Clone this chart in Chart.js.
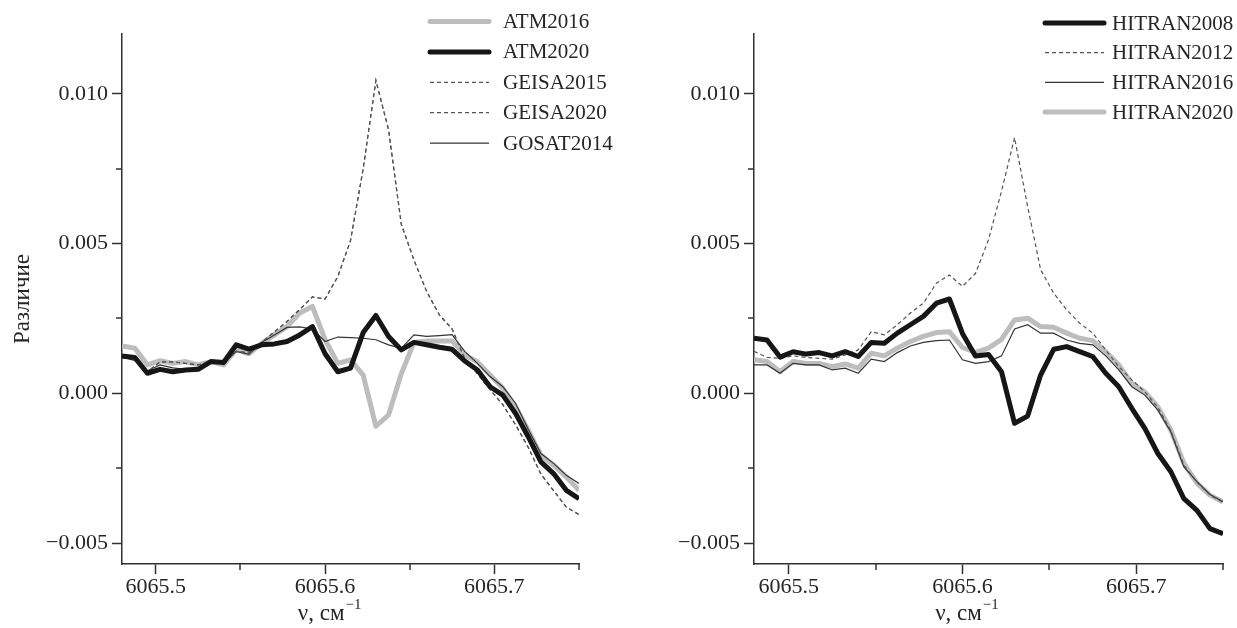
<!DOCTYPE html>
<html>
<head>
<meta charset="utf-8">
<script src="https://cdn.jsdelivr.net/npm/chart.js@4.4.1/dist/chart.umd.min.js"></script>
<style>
  html, body { margin: 0; padding: 0; background: #ffffff; }
  #wrap { position: relative; width: 1237px; height: 628px; overflow: hidden; }
  canvas { position: absolute; top: 0; }
</style>
</head>
<body>
<div id="wrap">
  <canvas id="leftPanel" width="620" height="628" style="left:0"></canvas>
  <canvas id="rightPanel" width="617" height="628" style="left:620px"></canvas>
</div>
<script>
// Wavenumber grid, cm^-1
const wavenumber = [
  6065.4800, 6065.4875, 6065.4950, 6065.5025, 6065.5100, 6065.5175, 6065.5250, 6065.5325,
  6065.5400, 6065.5475, 6065.5550, 6065.5625, 6065.5700, 6065.5775, 6065.5850, 6065.5925,
  6065.6000, 6065.6075, 6065.6150, 6065.6225, 6065.6300, 6065.6375, 6065.6450, 6065.6525,
  6065.6600, 6065.6675, 6065.6750, 6065.6825, 6065.6900, 6065.6975, 6065.7050, 6065.7125,
  6065.7200, 6065.7275, 6065.7350, 6065.7425, 6065.7500
];

// Left panel: ATM / GEISA / GOSAT differences
const atm2016 = [
  0.00158, 0.00151, 0.00095, 0.00109, 0.00100, 0.00106, 0.00095, 0.00106,
  0.00095, 0.00147, 0.00132, 0.00167, 0.00195, 0.00223, 0.00268, 0.00290,
  0.00179, 0.00100, 0.00112, 0.00061, -0.00110, -0.00072, 0.00065, 0.00170,
  0.00175, 0.00175, 0.00175, 0.00128, 0.00105, 0.00061, 0.00017, -0.00045,
  -0.00123, -0.00207, -0.00240, -0.00279, -0.00324
];
const atm2020 = [
  0.00125, 0.00120, 0.00067, 0.00080, 0.00072, 0.00078, 0.00080, 0.00106,
  0.00103, 0.00162, 0.00148, 0.00162, 0.00165, 0.00173, 0.00195, 0.00223,
  0.00132, 0.00072, 0.00084, 0.00203, 0.00260, 0.00190, 0.00145, 0.00170,
  0.00162, 0.00154, 0.00147, 0.00108, 0.00078, 0.00022, -0.00006, -0.00067,
  -0.00145, -0.00229, -0.00268, -0.00324, -0.00352
];
const geisa2015 = [
  0.00120, 0.00115, 0.00072, 0.00105, 0.00105, 0.00100, 0.00095, 0.00105,
  0.00100, 0.00140, 0.00135, 0.00170, 0.00205, 0.00240, 0.00280, 0.00322,
  0.00315, 0.00390, 0.00510, 0.00750, 0.01045, 0.00880, 0.00565, 0.00445,
  0.00340, 0.00262, 0.00215, 0.00115, 0.00065, 0.00012, -0.00038, -0.00105,
  -0.00180, -0.00270, -0.00325, -0.00380, -0.00405
];
const geisa2020 = [
  0.00120, 0.00115, 0.00072, 0.00105, 0.00105, 0.00100, 0.00095, 0.00105,
  0.00100, 0.00140, 0.00135, 0.00170, 0.00205, 0.00240, 0.00280, 0.00322,
  0.00315, 0.00390, 0.00510, 0.00750, 0.01045, 0.00880, 0.00565, 0.00445,
  0.00340, 0.00262, 0.00215, 0.00115, 0.00065, 0.00012, -0.00038, -0.00105,
  -0.00180, -0.00270, -0.00325, -0.00380, -0.00405
];
const gosat2014 = [
  0.00120, 0.00110, 0.00075, 0.00095, 0.00085, 0.00080, 0.00080, 0.00105,
  0.00100, 0.00140, 0.00130, 0.00170, 0.00195, 0.00220, 0.00222, 0.00215,
  0.00173, 0.00188, 0.00186, 0.00184, 0.00179, 0.00162, 0.00150, 0.00195,
  0.00190, 0.00193, 0.00196, 0.00140, 0.00100, 0.00056, 0.00022, -0.00033,
  -0.00120, -0.00201, -0.00234, -0.00274, -0.00301
];

// Right panel: HITRAN editions
const hitran2008 = [
  0.00184, 0.00178, 0.00121, 0.00139, 0.00131, 0.00136, 0.00125, 0.00139,
  0.00123, 0.00170, 0.00167, 0.00201, 0.00229, 0.00257, 0.00301, 0.00315,
  0.00200, 0.00125, 0.00130, 0.00072, -0.00100, -0.00076, 0.00061, 0.00147,
  0.00156, 0.00139, 0.00123, 0.00067, 0.00022, -0.00050, -0.00117, -0.00201,
  -0.00262, -0.00352, -0.00391, -0.00452, -0.00469
];
const hitran2012 = [
  0.00140, 0.00120, 0.00117, 0.00125, 0.00120, 0.00117, 0.00114, 0.00128,
  0.00145, 0.00206, 0.00195, 0.00229, 0.00268, 0.00301, 0.00368, 0.00395,
  0.00357, 0.00400, 0.00513, 0.00675, 0.00854, 0.00625, 0.00413, 0.00335,
  0.00279, 0.00234, 0.00201, 0.00145, 0.00089, 0.00045, 0.00005, -0.00047,
  -0.00125, -0.00240, -0.00297, -0.00340, -0.00364
];
const hitran2016 = [
  0.00095, 0.00095, 0.00067, 0.00100, 0.00095, 0.00095, 0.00078, 0.00084,
  0.00067, 0.00114, 0.00106, 0.00136, 0.00158, 0.00170, 0.00176, 0.00178,
  0.00112, 0.00100, 0.00106, 0.00125, 0.00215, 0.00229, 0.00201, 0.00201,
  0.00178, 0.00167, 0.00162, 0.00125, 0.00078, 0.00022, -0.00006, -0.00056,
  -0.00129, -0.00246, -0.00295, -0.00338, -0.00362
];
const hitran2020 = [
  0.00112, 0.00106, 0.00072, 0.00106, 0.00100, 0.00100, 0.00089, 0.00098,
  0.00084, 0.00134, 0.00125, 0.00151, 0.00173, 0.00190, 0.00203, 0.00206,
  0.00153, 0.00137, 0.00151, 0.00180, 0.00245, 0.00251, 0.00223, 0.00221,
  0.00201, 0.00184, 0.00176, 0.00139, 0.00095, 0.00033, 0.00005, -0.00045,
  -0.00123, -0.00234, -0.00300, -0.00340, -0.00363
];

// Axis ranges and tick spacing
const xRange = [6065.48, 6065.75];
const yRange = [-0.0057, 0.012];
const xStep = 0.05;
const yStep = 0.0025;

const FONT = '"Liberation Serif", "Times New Roman", serif';
const INK = '#262626';
const AXIS = '#303030';
const TICK_SIZE = 22;
const TITLE_SIZE = 23;
const LEGEND_SIZE = 21;

const styles = {
  lightThick: { borderColor: '#bdbdbd', borderWidth: 5, order: 4, borderJoinStyle: 'round' },
  darkThick:  { borderColor: '#161616', borderWidth: 5, order: 1, borderJoinStyle: 'round' },
  dashed:     { borderColor: '#555555', borderWidth: 1.2, order: 2, borderDash: [4, 3] },
  thin:       { borderColor: '#333333', borderWidth: 1.2, order: 3 }
};

function series(label, values, style) {
  return Object.assign({
    label,
    data: values.map((v, i) => ({ x: wavenumber[i], y: v })),
    pointRadius: 0,
    tension: 0,
    fill: false
  }, style);
}

const isMajorX = v => Math.abs(v * 10 - Math.round(v * 10)) < 1e-6;
const isMajorY = v => Math.abs(v / 0.005 - Math.round(v / 0.005)) < 1e-6;
const fmtY = v => (v < -1e-12 ? '\u2212' + Math.abs(v).toFixed(3) : Math.abs(v).toFixed(3));

// Short ticks between the labelled ones
const minorTicks = {
  id: 'minorTicks',
  afterDraw(chart) {
    const ctx = chart.ctx;
    const { left, bottom } = chart.chartArea;
    ctx.save();
    ctx.strokeStyle = AXIS;
    ctx.lineWidth = 1.5;
    chart.scales.x.ticks.forEach(t => {
      if (isMajorX(t.value)) return;
      const px = Math.round(chart.scales.x.getPixelForValue(t.value));
      ctx.beginPath(); ctx.moveTo(px, bottom); ctx.lineTo(px, bottom + 6); ctx.stroke();
    });
    chart.scales.y.ticks.forEach(t => {
      if (isMajorY(t.value)) return;
      const py = Math.round(chart.scales.y.getPixelForValue(t.value));
      ctx.beginPath(); ctx.moveTo(left, py); ctx.lineTo(left - 6, py); ctx.stroke();
    });
    ctx.restore();
  }
};

// Legend drawn in the upper right corner of each panel
const cornerLegend = {
  id: 'cornerLegend',
  afterDraw(chart, args, opts) {
    const ctx = chart.ctx;
    ctx.save();
    chart.data.datasets.forEach((ds, i) => {
      const y = opts.top + i * opts.gap;
      ctx.strokeStyle = ds.borderColor;
      ctx.lineWidth = ds.borderWidth;
      ctx.setLineDash(ds.borderDash || []);
      ctx.lineCap = ds.borderWidth > 2 ? 'round' : 'butt';
      ctx.beginPath(); ctx.moveTo(opts.x0, y); ctx.lineTo(opts.x1, y); ctx.stroke();
      ctx.setLineDash([]);
      ctx.fillStyle = INK;
      ctx.font = LEGEND_SIZE + 'px ' + FONT;
      ctx.textBaseline = 'middle';
      ctx.textAlign = 'left';
      ctx.fillText(ds.label, opts.textX, y + 1);
    });
    ctx.restore();
  }
};

// Axis title with superscript unit
const xTitle = {
  id: 'xTitle',
  afterDraw(chart) {
    const ctx = chart.ctx;
    const cx = chart.scales.x.getPixelForValue(6065.6) + 4;
    ctx.save();
    ctx.fillStyle = INK;
    ctx.textBaseline = 'alphabetic';
    ctx.font = TITLE_SIZE + 'px ' + FONT;
    const main = 'ν, см';
    const sup = '\u22121';
    const wMain = ctx.measureText(main).width;
    ctx.font = '15px ' + FONT;
    const wSup = ctx.measureText(sup).width;
    const x0 = cx - (wMain + wSup) / 2;
    ctx.font = TITLE_SIZE + 'px ' + FONT;
    ctx.fillText(main, x0, 620);
    ctx.font = '15px ' + FONT;
    ctx.fillText(sup, x0 + wMain + 1, 609);
    ctx.restore();
  }
};

function makeOptions(yWidth, rightPad, showYTitle, legendOpts) {
  return {
    responsive: false,
    animation: false,
    devicePixelRatio: 1,
    layout: { padding: { top: 34, right: rightPad, left: 0, bottom: 0 } },
    plugins: {
      legend: { display: false },
      tooltip: { enabled: false },
      cornerLegend: legendOpts
    },
    scales: {
      x: {
        type: 'linear',
        min: xRange[0],
        max: xRange[1],
        afterFit: s => { s.height = 64; },
        border: { display: true, color: AXIS, width: 1.5 },
        grid: {
          drawOnChartArea: false, drawTicks: true, tickLength: 10, tickWidth: 1.5,
          tickColor: c => (c.tick && isMajorX(c.tick.value) ? AXIS : 'rgba(0,0,0,0)')
        },
        ticks: {
          stepSize: xStep, includeBounds: false, autoSkip: false, maxRotation: 0,
          padding: 0, color: INK, font: { family: FONT, size: TICK_SIZE },
          callback: v => (isMajorX(v) ? v.toFixed(1) : '')
        }
      },
      y: {
        type: 'linear',
        min: yRange[0],
        max: yRange[1],
        afterFit: s => { s.width = yWidth; },
        border: { display: true, color: AXIS, width: 1.5 },
        grid: {
          drawOnChartArea: false, drawTicks: true, tickLength: 10, tickWidth: 1.5,
          tickColor: c => (c.tick && isMajorY(c.tick.value) ? AXIS : 'rgba(0,0,0,0)')
        },
        ticks: {
          stepSize: yStep, includeBounds: false, autoSkip: false,
          padding: 4, color: INK, font: { family: FONT, size: TICK_SIZE },
          callback: v => (isMajorY(v) ? fmtY(v) : '')
        },
        title: {
          display: showYTitle, text: 'Различие', color: INK,
          font: { family: FONT, size: TITLE_SIZE }, padding: { top: 9, bottom: 0 }
        }
      }
    }
  };
}

new Chart(document.getElementById('leftPanel'), {
  type: 'line',
  data: {
    datasets: [
      series('ATM2016', atm2016, styles.lightThick),
      series('ATM2020', atm2020, styles.darkThick),
      series('GEISA2015', geisa2015, styles.dashed),
      series('GEISA2020', geisa2020, styles.dashed),
      series('GOSAT2014', gosat2014, styles.thin)
    ]
  },
  options: makeOptions(122, 41, true, { x0: 430, x1: 489, textX: 503, top: 21.5, gap: 30.4 }),
  plugins: [minorTicks, cornerLegend, xTitle]
});

new Chart(document.getElementById('rightPanel'), {
  type: 'line',
  data: {
    datasets: [
      series('HITRAN2008', hitran2008, styles.darkThick),
      series('HITRAN2012', hitran2012, styles.dashed),
      series('HITRAN2016', hitran2016, styles.thin),
      series('HITRAN2020', hitran2020, styles.lightThick)
    ]
  },
  options: makeOptions(134, 14, false, { x0: 425, x1: 484, textX: 492, top: 23, gap: 29.7 }),
  plugins: [minorTicks, cornerLegend, xTitle]
});
</script>
</body>
</html>
